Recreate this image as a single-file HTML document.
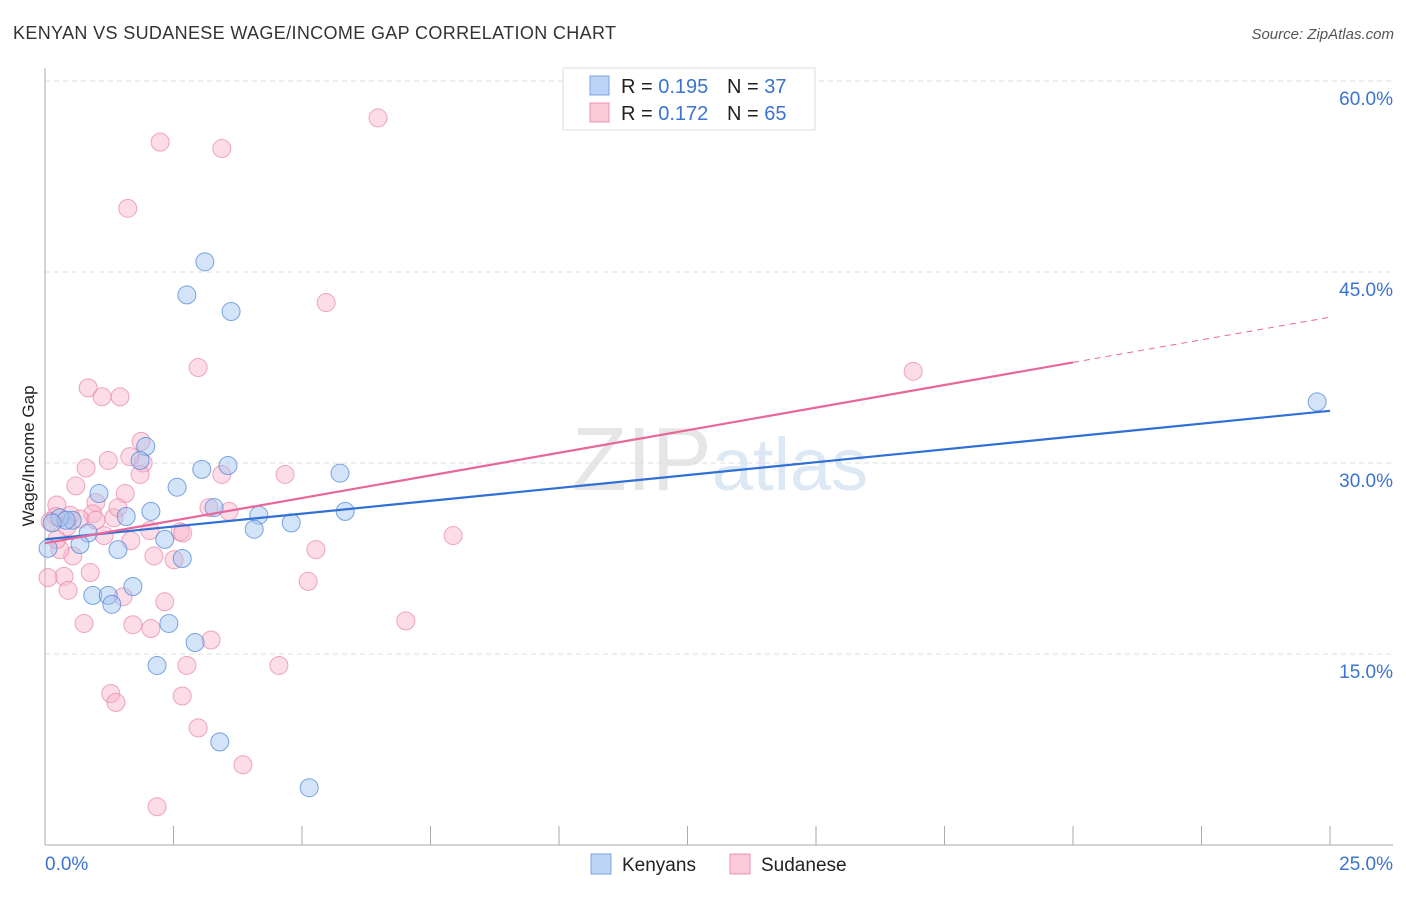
<!DOCTYPE html>
<html><head><meta charset="utf-8"><style>
body{margin:0;background:#fff;font-family:"Liberation Sans",sans-serif}
svg text{font-family:"Liberation Sans",sans-serif}
</style></head><body>
<svg id="c" width="1406" height="892" xmlns="http://www.w3.org/2000/svg">
<text x="13" y="39" font-size="18" fill="#333" textLength="603">KENYAN VS SUDANESE WAGE/INCOME GAP CORRELATION CHART</text>
<text x="1394" y="39" font-size="15" fill="#555" font-style="italic" text-anchor="end">Source: ZipAtlas.com</text>
<text x="720" y="490" font-size="90" fill="#e6e6e6" text-anchor="middle" font-family="Liberation Serif">ZIP<tspan fill="#dde8f5" font-family="Liberation Sans" font-size="74">atlas</tspan></text>
<text transform="translate(34,456) rotate(-90)" font-size="17" fill="#222" text-anchor="middle">Wage/Income Gap</text>
<g id="grid"></g><g id="pts"></g><g id="lines"></g>
<g>
<rect x="563" y="68" width="252" height="62" fill="#fff" stroke="#ddd"/>
<rect x="590" y="76" width="19" height="19" fill="#bcd4f5" stroke="#7aa5e0"/>
<rect x="590" y="103" width="19" height="19" fill="#fbcad9" stroke="#ec93b0"/>
<text x="621" y="93" font-size="20" fill="#222">R = <tspan fill="#3a73d0">0.195</tspan></text>
<text x="727" y="93" font-size="20" fill="#222">N = <tspan fill="#3a73d0">37</tspan></text>
<text x="621" y="120" font-size="20" fill="#222">R = <tspan fill="#3a73d0">0.172</tspan></text>
<text x="727" y="120" font-size="20" fill="#222">N = <tspan fill="#3a73d0">65</tspan></text>
</g>
<g>
<rect x="591" y="854" width="20" height="20" fill="#bcd4f5" stroke="#7aa5e0"/>
<text x="622" y="871" font-size="19" fill="#222">Kenyans</text>
<rect x="730" y="854" width="20" height="20" fill="#fbcad9" stroke="#ec93b0"/>
<text x="761" y="871" font-size="19" fill="#222">Sudanese</text>
</g>
</svg>
<script>
const yTicks=[15,30,45,60];
const yTickLabels=["15.0%","30.0%","45.0%","60.0%"];
const xTicks=[0,2.5,5,7.5,10,12.5,15,17.5,20,22.5,25];
const kenX=[3.11,2.76,3.62,1.96,1.85,3.05,3.56,2.57,5.74,1.05,2.06,1.58,4.16,5.84,4.79,4.07,0.53,0.29,0.41,0.84,0.68,0.06,1.42,2.33,2.67,1.71,0.93,1.23,1.30,2.41,2.92,2.18,3.40,5.14,24.75,3.29,0.14];
const kenY=[45.8,43.2,41.9,31.3,30.2,29.5,29.8,28.1,29.2,27.6,26.2,25.8,25.9,26.2,25.3,24.8,25.5,25.7,25.5,24.5,23.6,23.3,23.2,24.0,22.5,20.3,19.6,19.6,18.9,17.4,15.9,14.1,8.1,4.5,34.8,26.5,25.3];
const sudX=[6.48,2.24,3.44,1.61,5.47,2.98,16.89,0.84,1.11,1.46,1.87,1.91,1.23,0.80,0.60,1.56,0.99,0.23,3.58,3.19,4.67,1.85,0.93,1.34,0.68,0.21,0.49,2.04,2.63,1.67,1.15,2.12,2.51,7.94,5.27,0.54,5.12,0.88,0.37,0.06,0.45,2.33,1.52,0.76,1.71,2.06,3.23,7.02,2.76,4.55,1.28,2.67,1.38,2.98,3.85,2.18,0.29,0.10,0.23,2.68,0.99,1.65,3.44,1.42,0.43];
const sudY=[57.1,55.2,54.7,50.0,42.6,37.5,37.2,35.9,35.2,35.2,31.7,30.0,30.2,29.6,28.2,27.6,26.9,26.7,26.2,26.5,29.1,29.1,26.0,25.7,25.6,25.8,25.9,24.7,24.6,23.9,24.3,22.7,22.4,24.3,23.2,22.7,20.7,21.4,21.1,21.0,20.0,19.1,19.5,17.4,17.3,17.0,16.1,17.6,14.1,14.1,11.9,11.7,11.2,9.2,6.3,3.0,23.2,25.4,24.0,24.5,25.5,30.5,29.1,26.5,25.0];
const kenTrend=[24.0,0.404];
const sudTrend=[23.7,0.71];
const NS="http://www.w3.org/2000/svg";
const X=v=>45+v*1285/25, Y=v=>845-v*191/15;
function mk(t,a,p){const e=document.createElementNS(NS,t);for(const k in a)e.setAttribute(k,a[k]);p.appendChild(e);return e;}
const g=document.getElementById('grid');
yTicks.forEach((t,i)=>{
 const l=mk('line',{x1:45,x2:1393,y1:Y(t),y2:Y(t),stroke:'#ddd','stroke-dasharray':'5,4'},g);
 
 
 const tx=mk('text',{x:1393,y:Y(t)+24,'font-size':19,fill:'#3a73d0','text-anchor':'end'},g);
 tx.textContent=yTickLabels[i];
 
 
});
mk('line',{x1:45,x2:45,y1:68,y2:845,stroke:'#aaa'},g);
mk('line',{x1:45,x2:1393,y1:845,y2:845,stroke:'#aaa'},g);
xTicks.forEach(t=>{
 const l=mk('line',{x1:X(t),x2:X(t),y1:826,y2:845,stroke:'#aaa'},g);
 
 
});
let a=mk('text',{x:45,y:870,'font-size':19,fill:'#3a73d0'},g);a.textContent='0.0%';


a=mk('text',{x:1393,y:870,'font-size':19,fill:'#3a73d0','text-anchor':'end'},g);a.textContent='25.0%';


const p=document.getElementById('pts');
sudX.forEach((x,i)=>{
 const c=mk('circle',{cx:X(x),cy:Y(sudY[i]),r:9,fill:'rgba(248,180,202,0.45)',stroke:'rgba(232,130,165,0.7)','stroke-width':1},p);
 
 
});
kenX.forEach((x,i)=>{
 const c=mk('circle',{cx:X(x),cy:Y(kenY[i]),r:9,fill:'rgba(160,195,240,0.45)',stroke:'rgba(80,135,215,0.75)','stroke-width':1},p);
 
 
});
const L=document.getElementById('lines');
let t=mk('line',{x1:X(0),y1:Y(kenTrend[0]),x2:X(25),y2:Y(kenTrend[0]+25*kenTrend[1]),stroke:'#2f6fd6','stroke-width':2.2},L);


t=mk('line',{x1:X(0),y1:Y(sudTrend[0]),x2:X(20),y2:Y(sudTrend[0]+20*sudTrend[1]),stroke:'#e8669a','stroke-width':2.2},L);


t=mk('line',{x1:X(20),y1:Y(sudTrend[0]+20*sudTrend[1]),x2:X(25),y2:Y(sudTrend[0]+25*sudTrend[1]),stroke:'#e8669a','stroke-width':1,'stroke-dasharray':'6,5'},L);


</script>
</body></html>
